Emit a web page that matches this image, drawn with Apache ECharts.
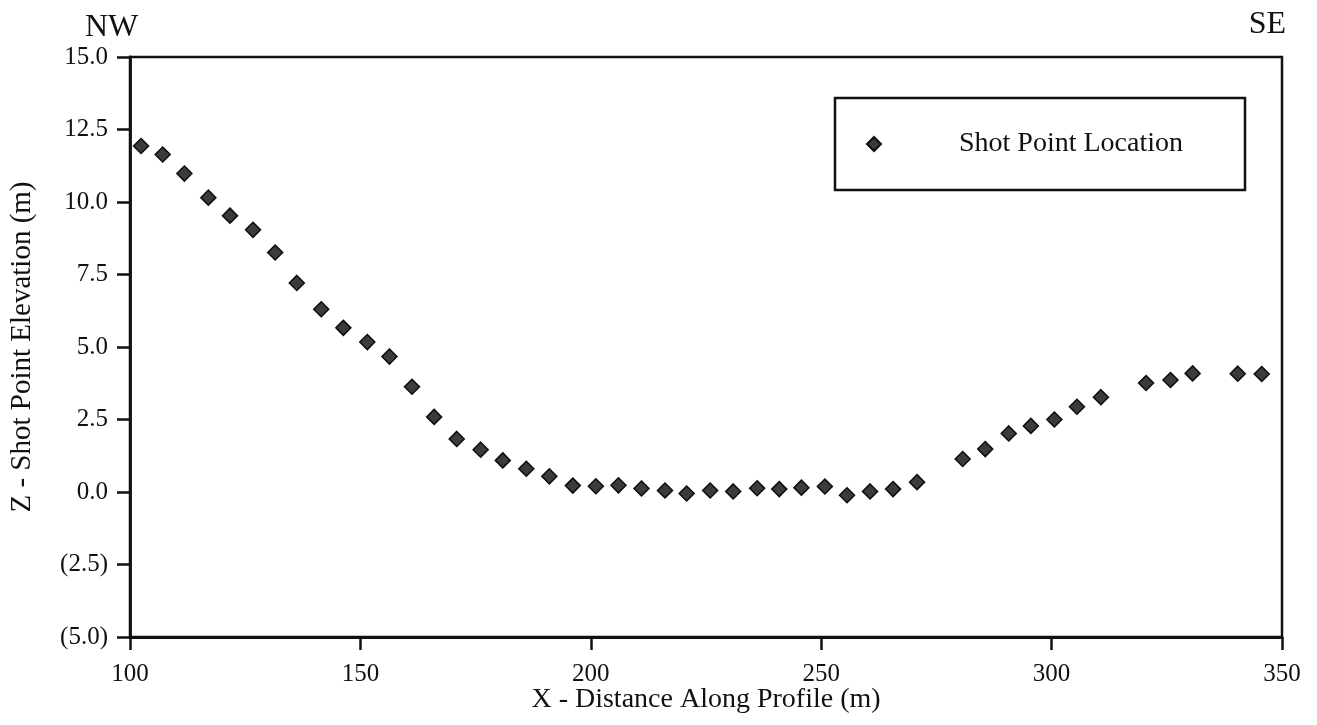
<!DOCTYPE html>
<html>
<head>
<meta charset="utf-8">
<title>Shot Point Elevation Profile</title>
<script src="https://cdn.jsdelivr.net/npm/echarts@6/dist/echarts.min.js"></script>
<style>
  html, body { margin: 0; padding: 0; background: #ffffff; }
  #chart { width: 1317px; height: 725px; }
</style>
</head>
<body>
<div id="chart"></div>
<script>
// Distance along the profile (m) of each shot point
const distance = [
  102.4, 107.1, 111.8, 117.0, 121.7, 126.7, 131.5, 136.2, 141.5, 146.3,
  151.5, 156.3, 161.2, 166.0, 170.9, 176.1, 180.9, 186.0, 191.0, 196.1,
  201.1, 206.0, 211.0, 216.1, 220.8, 225.9, 230.9, 236.1, 240.9, 245.7,
  250.8, 255.6, 260.6, 265.6, 270.8, 280.7, 285.6, 290.7, 295.5, 300.6,
  305.5, 310.7, 320.5, 325.8, 330.6, 340.4, 345.6
];
// Elevation (m) of each shot point
const elevation = [
  11.93, 11.64, 10.98, 10.15, 9.53, 9.04, 8.26, 7.21, 6.30, 5.66,
  5.17, 4.67, 3.63, 2.59, 1.83, 1.46, 1.09, 0.80, 0.54, 0.22,
  0.20, 0.23, 0.12, 0.05, -0.05, 0.05, 0.02, 0.13, 0.10, 0.15,
  0.19, -0.11, 0.02, 0.10, 0.34, 1.14, 1.48, 2.02, 2.28, 2.50,
  2.94, 3.27, 3.76, 3.86, 4.09, 4.08, 4.07
];
const seriesName = 'Shot Point Location';
const xTitle = 'X - Distance Along Profile (m)';
const yTitle = 'Z - Shot Point Elevation (m)';
const leftEnd = 'NW';
const rightEnd = 'SE';

const FONT = '"Liberation Serif", "Times New Roman", serif';
const INK = '#111111';

const points = distance.map((d, i) => [d, elevation[i]]);

// Negative elevations are written in accounting style, e.g. (2.5)
function elevLabel(v) {
  const s = Math.abs(v).toFixed(1);
  return v < 0 ? '(' + s + ')' : s;
}

const chart = echarts.init(document.getElementById('chart'), null, { renderer: 'canvas' });

chart.setOption({
  backgroundColor: '#ffffff',
  animation: false,
  grid: {
    left: 126.5, right: 35, top: 57, bottom: 88,
    show: true, borderColor: INK, borderWidth: 2.5, backgroundColor: 'transparent'
  },
  xAxis: {
    type: 'value', min: 100, max: 350, interval: 50,
    name: xTitle, nameLocation: 'middle', nameGap: 49, nameMoveOverlap: false,
    nameTextStyle: { fontFamily: FONT, fontSize: 28, color: INK },
    axisLine: { show: true, onZero: false, lineStyle: { color: INK, width: 2.8 } },
    axisTick: { show: true, inside: false, length: 13, lineStyle: { color: INK, width: 2.5 } },
    axisLabel: { margin: 25, fontFamily: FONT, fontSize: 25, color: INK },
    splitLine: { show: false }
  },
  yAxis: {
    type: 'value', min: -5, max: 15, interval: 2.5,
    name: yTitle, nameLocation: 'middle', nameGap: 93, nameRotate: 90, nameMoveOverlap: false,
    nameTextStyle: { fontFamily: FONT, fontSize: 29, color: INK },
    axisLine: { show: true, onZero: false, lineStyle: { color: INK, width: 2.8 } },
    axisTick: { show: true, inside: false, length: 13, lineStyle: { color: INK, width: 2.5 } },
    axisLabel: { margin: 22, fontFamily: FONT, fontSize: 25, color: INK, formatter: elevLabel },
    splitLine: { show: false }
  },
  legend: {
    left: 835, top: 98,
    orient: 'horizontal',
    backgroundColor: '#ffffff',
    borderColor: INK, borderWidth: 2.5, borderRadius: 0,
    padding: [32, 62, 32, 31],
    itemWidth: 14, itemHeight: 14,
    formatter: name => '{t|' + name + '}',
    textStyle: {
      rich: { t: { fontFamily: FONT, fontSize: 28, color: INK, lineHeight: 28, padding: [0, 0, 0, 73] } }
    },
    data: [{ name: seriesName, icon: 'diamond' }]
  },
  graphic: [
    { type: 'text', left: 85, top: 12, style: { text: leftEnd, font: '32px ' + FONT, fill: INK } },
    { type: 'text', right: 31, top: 9, style: { text: rightEnd, font: '32px ' + FONT, fill: INK } }
  ],
  series: [{
    name: seriesName,
    type: 'scatter',
    symbol: 'diamond',
    symbolSize: 15,
    itemStyle: { color: '#3b3b3b', borderColor: '#0d0d0d', borderWidth: 1.5, opacity: 1 },
    data: points
  }]
});
</script>
</body>
</html>
